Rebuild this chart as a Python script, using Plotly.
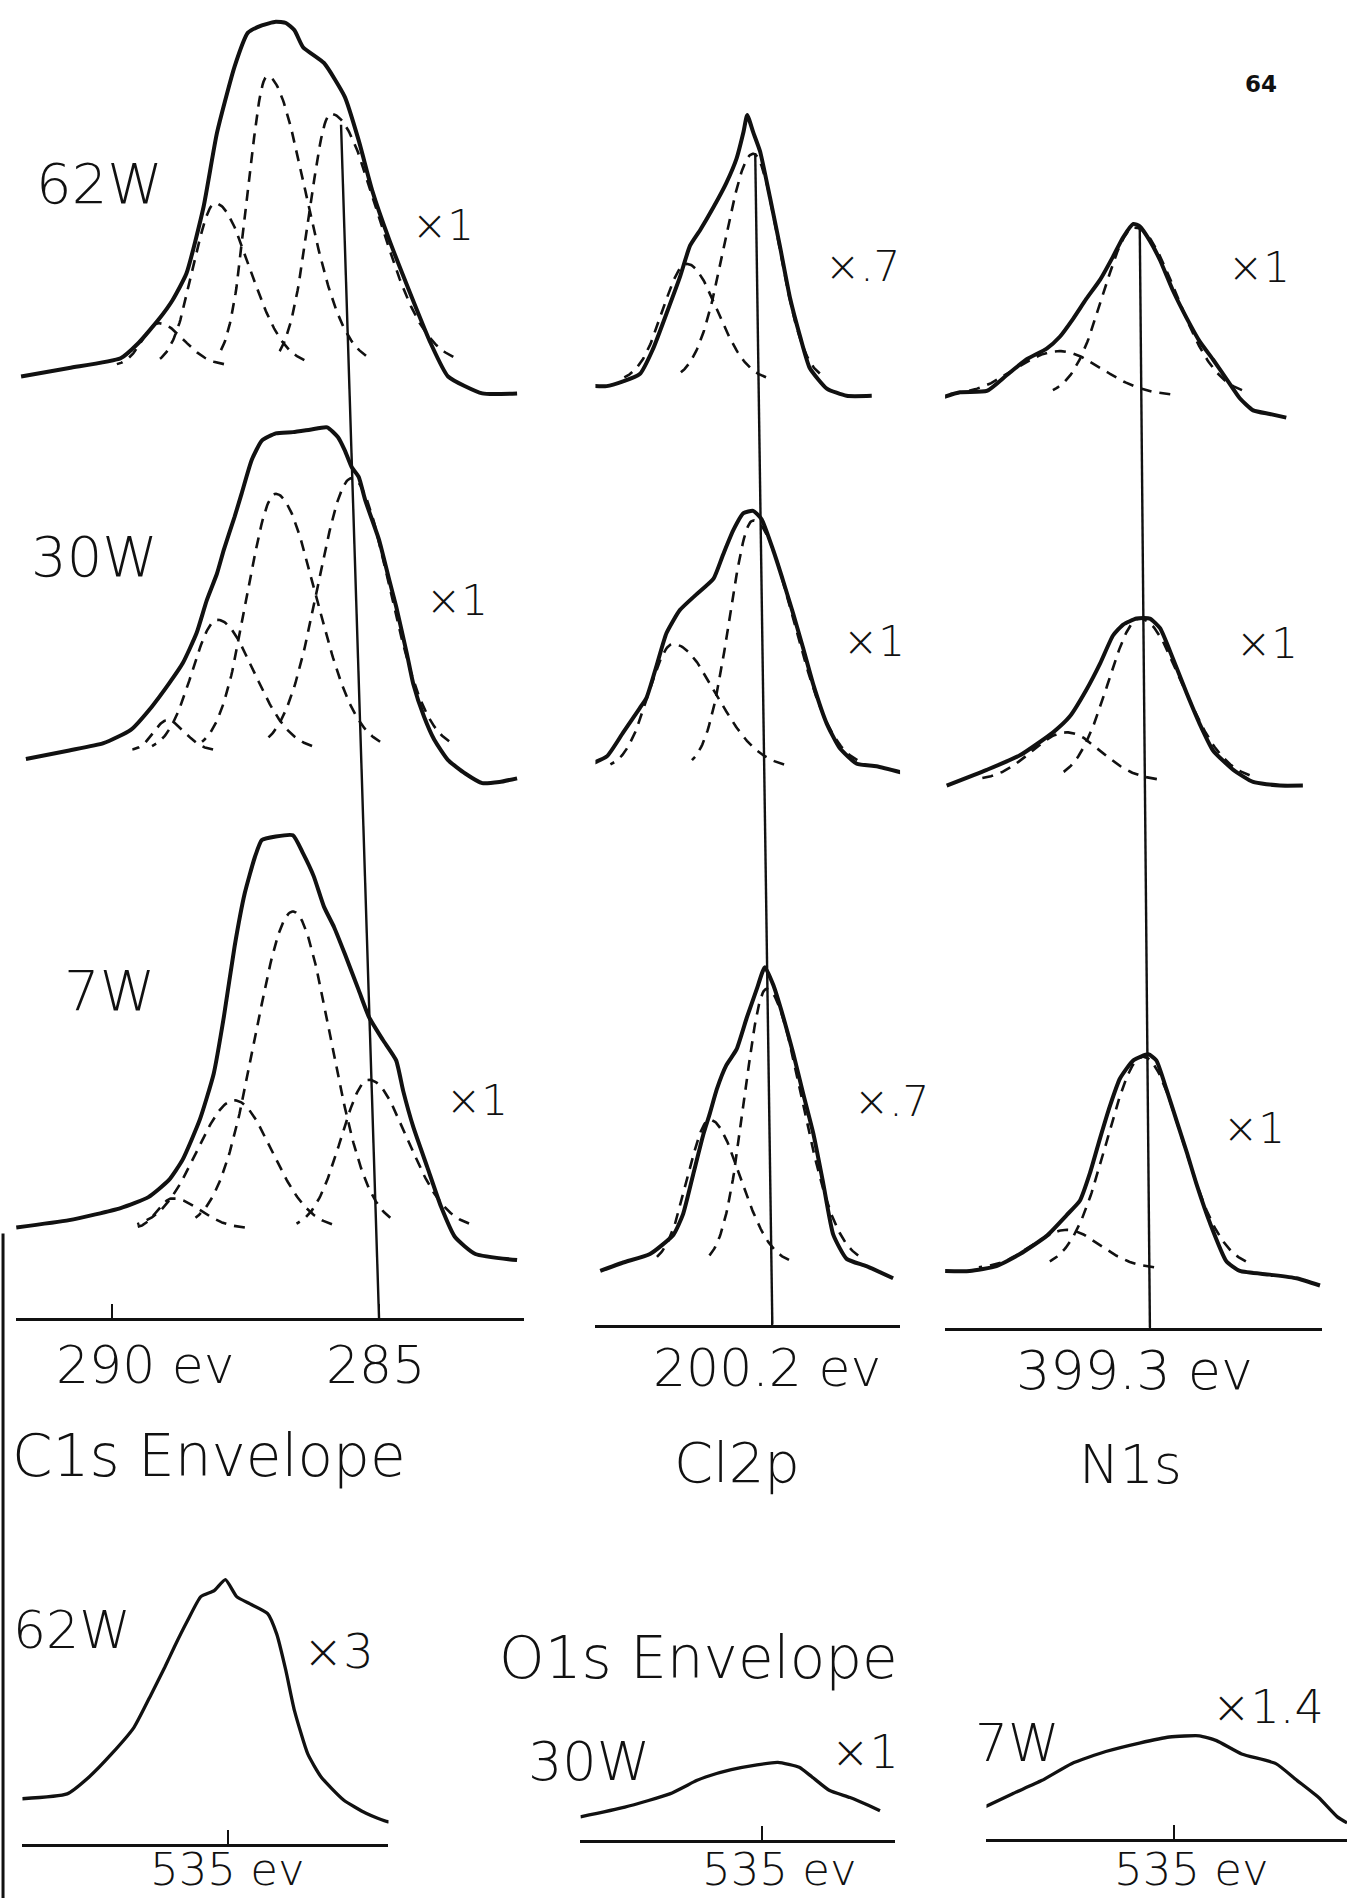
import numpy as np
import plotly.graph_objects as go

# ---------------- data: binding energy (eV) and intensity (arb. units) ----------------
# C1s envelopes
C1S_62W_E = [291.69, 290.79, 289.83, 289.51, 289.12, 288.86, 288.60, 288.28, 288.03, 287.70, 287.45, 287.19,
             286.93, 286.74, 286.58, 286.42, 286.03, 285.64, 285.38, 285.13, 284.81, 284.42, 284.03, 283.71,
             283.07, 282.42]
C1S_62W_I = [19, 26, 34, 46, 66, 82, 104, 159, 220, 275, 303, 309, 312, 311, 305, 291, 278, 250, 214, 173,
             132, 88, 46, 19, 5, 5]
C1S_30W_E = [291.60, 290.79, 290.15, 289.64, 289.25, 288.93, 288.67, 288.41, 288.22, 288.03, 287.90, 287.70,
             287.57, 287.38, 287.19, 286.93, 286.61, 286.29, 285.97, 285.77, 285.64, 285.51, 285.38, 285.26,
             285.00, 284.81, 284.68, 284.48, 284.36, 284.16, 283.97, 283.71, 283.39, 283.07, 282.75, 282.42]
C1S_30W_I = [23, 30, 36, 47, 66, 85, 102, 127, 154, 176, 196, 223, 242, 270, 286, 292, 293, 295, 297, 289,
             278, 264, 256, 237, 204, 171, 149, 110, 85, 58, 39, 22, 11, 3, 4, 7]
C1S_7W_E = [291.78, 290.79, 289.83, 289.31, 288.93, 288.67, 288.35, 288.09, 287.90, 287.70, 287.51, 287.32,
            287.19, 286.93, 286.61, 286.42, 286.22, 286.03, 285.84, 285.64, 285.38, 285.19, 284.93, 284.68,
            284.55, 284.36, 284.10, 283.84, 283.58, 283.20, 282.42]
C1S_7W_I = [31, 37, 47, 56, 70, 87, 120, 158, 205, 263, 307, 337, 351, 354, 355, 340, 321, 296, 279, 257,
            227, 205, 186, 169, 144, 114, 81, 48, 23, 9, 4]

# Cl2p envelopes
CL2P_62W_E = [203.83, 203.30, 202.68, 202.43, 202.18, 201.93, 201.74, 201.55, 201.30, 201.06, 200.87, 200.74,
              200.67, 200.56, 200.43, 200.24, 200.06, 199.87, 199.68, 199.50, 199.18, 198.81, 198.34]
CL2P_62W_I = [12, 11, 21, 42, 71, 101, 127, 140, 159, 179, 199, 221, 235, 221, 205, 166, 127, 84, 52, 26, 9,
              3, 3]
CL2P_30W_E = [204.11, 203.80, 203.30, 202.99, 202.68, 202.55, 202.36, 202.18, 201.93, 201.62, 201.30, 201.12,
              200.93, 200.74, 200.56, 200.40, 200.18, 199.99, 199.81, 199.62, 199.43, 199.18, 198.94, 198.62,
              198.25, 197.63]
CL2P_30W_I = [2, 10, 20, 40, 60, 69, 96, 122, 141, 154, 167, 187, 207, 221, 223, 216, 190, 164, 138, 109, 79,
              47, 27, 14, 12, 5]
CL2P_7W_E = [203.42, 202.99, 202.49, 202.05, 201.87, 201.68, 201.49, 201.37, 201.24, 201.06, 200.87, 200.68,
             200.49, 200.34, 200.18, 199.99, 199.81, 199.62, 199.43, 199.25, 199.06, 198.81, 198.44, 197.94]
CL2P_7W_I = [10, 17, 24, 40, 57, 90, 123, 140, 160, 180, 193, 219, 243, 261, 246, 219, 190, 156, 123, 83, 40,
             20, 14, 4]

# N1s envelopes
N1S_62W_E = [403.23, 402.85, 402.35, 401.98, 401.61, 401.23, 400.98, 400.73, 400.49, 400.23, 399.99, 399.80,
             399.61, 399.49, 399.30, 399.11, 398.87, 398.61, 398.37, 398.12, 397.87, 397.62, 397.37, 397.06,
             396.75]
N1S_62W_I = [19, 24, 25, 38, 51, 60, 70, 85, 101, 117, 136, 152, 163, 161, 149, 133, 108, 85, 66, 51, 35, 19,
             9, 6, 3]
N1S_30W_E = [403.10, 402.35, 401.73, 401.11, 400.80, 400.49, 400.23, 399.99, 399.80, 399.55, 399.30, 399.11,
             398.87, 398.61, 398.37, 398.12, 397.74, 397.37, 396.87, 396.44]
N1S_30W_I = [3, 16, 28, 47, 60, 82, 104, 127, 136, 141, 141, 133, 108, 79, 54, 32, 16, 6, 3, 3]
N1S_7W_E = [403.13, 402.67, 402.17, 401.73, 401.23, 400.86, 400.61, 400.42, 400.23, 400.05, 399.86, 399.61,
            399.33, 399.18, 398.99, 398.80, 398.61, 398.43, 398.18, 397.87, 397.62, 397.06, 396.56, 396.12]
N1S_7W_I = [15, 15, 19, 29, 44, 61, 73, 96, 125, 151, 174, 189, 194, 189, 165, 139, 113, 87, 55, 23, 15, 12,
            9, 3]

# O1s envelopes
O1S_62W_E = [538.84, 538.00, 537.59, 537.17, 536.75, 536.42, 536.17, 536.00, 535.75, 535.50, 535.25, 535.04,
             534.83, 534.58, 534.25, 534.08, 533.91, 533.75, 533.50, 533.25, 532.83, 532.41, 532.00, 531.70]
O1S_62W_I = [24, 28, 42, 61, 83, 111, 133, 149, 171, 191, 196, 205, 191, 185, 177, 160, 130, 97, 61, 42, 23,
             12, 5, 8]
O1S_30W_E = [538.40, 537.57, 536.73, 536.23, 536.06, 535.58, 535.10, 534.71, 534.31, 534.07, 533.75, 533.36,
             533.04, 532.80]
O1S_30W_I = [4, 12, 23, 34, 37, 43, 47, 49, 45, 37, 26, 20, 14, 9]
O1S_7W_E = [538.54, 538.02, 537.47, 536.91, 536.27, 535.64, 535.08, 534.52, 534.20, 533.73, 533.09, 532.69,
            532.29, 531.94, 531.76]
O1S_7W_I = [12, 23, 34, 48, 58, 65, 70, 71, 67, 56, 48, 34, 20, 4, -1]

# fitted components: centre (eV), height, sigma on high-BE / low-BE side (eV), background level
C1S_62W_FIT_E = [289.12, 288.06, 287.09, 285.90]
C1S_62W_FIT_H = [35, 134, 239, 208]
C1S_62W_FIT_SHI = [0.30, 0.41, 0.355, 0.40]
C1S_62W_FIT_SLO = [0.47, 0.64, 0.71, 0.88]
C1S_62W_FIT_BG = 28
C1S_30W_FIT_E = [288.96, 288.02, 286.93, 285.51]
C1S_30W_FIT_H = [25, 108, 212, 225]
C1S_30W_FIT_SHI = [0.25, 0.47, 0.53, 0.63]
C1S_30W_FIT_SLO = [0.33, 0.68, 0.75, 0.70]
C1S_30W_FIT_BG = 30
C1S_7W_FIT_E = [288.86, 287.70, 286.61, 285.19]
C1S_7W_FIT_H = [25, 106, 262, 123]
C1S_7W_FIT_SHI = [0.27, 0.70, 0.70, 0.52]
C1S_7W_FIT_SLO = [0.52, 0.70, 0.70, 0.72]
C1S_7W_FIT_BG = 30

CL2P_62W_FIT_E = [201.80, 200.56]
CL2P_62W_FIT_H = [97, 188]
CL2P_62W_FIT_SHI = [0.45, 0.53]
CL2P_62W_FIT_SLO = [0.57, 0.48]
CL2P_62W_FIT_BG = 15
CL2P_30W_FIT_E = [202.06, 200.56]
CL2P_30W_FIT_H = [103, 205]
CL2P_30W_FIT_SHI = [0.45, 0.44]
CL2P_30W_FIT_SLO = [0.80, 0.75]
CL2P_30W_FIT_BG = 10
CL2P_7W_FIT_E = [201.37, 200.31]
CL2P_7W_FIT_H = [120, 228]
CL2P_7W_FIT_SHI = [0.41, 0.41]
CL2P_7W_FIT_SLO = [0.57, 0.66]
CL2P_7W_FIT_BG = 15

N1S_62W_FIT_E = [401.00, 399.58]
N1S_62W_FIT_H = [37, 139]
N1S_62W_FIT_SHI = [0.80, 0.59]
N1S_62W_FIT_SLO = [0.80, 0.77]
N1S_62W_FIT_BG = 21
N1S_30W_FIT_E = [400.86, 399.49]
N1S_30W_FIT_H = [40, 134]
N1S_30W_FIT_SHI = [0.65, 0.59]
N1S_30W_FIT_SLO = [0.65, 0.79]
N1S_30W_FIT_BG = 7
N1S_7W_FIT_E = [400.86, 399.43]
N1S_7W_FIT_H = [32, 175]
N1S_7W_FIT_SHI = [0.63, 0.67]
N1S_7W_FIT_SLO = [0.63, 0.74]
N1S_7W_FIT_BG = 17

# peak-shift guide lines (top energy -> energy at the axis)
C1S_SHIFT_E = [285.71, 285.00]
CL2P_SHIFT_E = [200.52, 200.20]
N1S_SHIFT_E = [399.49, 399.30]

# tick values
C1S_TICKS = [290, 285]
CL2P_TICKS = [200.2]
N1S_TICKS = [399.3]
O1S_TICKS = [535]

# ---------------- layout (positions on a 1113 x 1568 grid) ----------------
INK = "#111111"
FONT = "DejaVu Sans"
GX, GY = 1113.0, 1568.0
ENV_W = 4.0
FIT_W = 2.6
FIT_DASH = "11px,8px"


def px(x):
    return x / GX


def py(y):
    return 1 - y / GY


fig = go.Figure()


def env(xa, ya, E, I, off, w=ENV_W):
    fig.add_trace(go.Scatter(x=E, y=[off + v for v in I], mode="lines", xaxis=xa, yaxis=ya,
                             line=dict(color=INK, width=w, shape="spline", smoothing=0.5),
                             showlegend=False, hoverinfo="skip"))


def comps(xa, ya, cen, hgt, shi, slo, bg, off):
    for c, a, sh, sl in zip(cen, hgt, shi, slo):
        e = np.linspace(c - 2.6 * sl, c + 2.6 * sh, 160)
        s = np.where(e >= c, sh, sl)
        y = off + bg + a * np.exp(-0.5 * ((e - c) / s) ** 2)
        fig.add_trace(go.Scatter(x=e, y=y, mode="lines", xaxis=xa, yaxis=ya,
                                 line=dict(color=INK, width=FIT_W, dash=FIT_DASH),
                                 showlegend=False, hoverinfo="skip"))


def guide(xa, ya, E, top):
    fig.add_trace(go.Scatter(x=E, y=[top, 0], mode="lines", xaxis=xa, yaxis=ya,
                             line=dict(color=INK, width=2.4), showlegend=False, hoverinfo="skip"))


# C1s column (x / y)
C1S_OFF = [759, 439, 44]
env("x", "y", C1S_62W_E, C1S_62W_I, C1S_OFF[0])
env("x", "y", C1S_30W_E, C1S_30W_I, C1S_OFF[1])
env("x", "y", C1S_7W_E, C1S_7W_I, C1S_OFF[2])
comps("x", "y", C1S_62W_FIT_E, C1S_62W_FIT_H, C1S_62W_FIT_SHI, C1S_62W_FIT_SLO, C1S_62W_FIT_BG, C1S_OFF[0])
comps("x", "y", C1S_30W_FIT_E, C1S_30W_FIT_H, C1S_30W_FIT_SHI, C1S_30W_FIT_SLO, C1S_30W_FIT_BG, C1S_OFF[1])
comps("x", "y", C1S_7W_FIT_E, C1S_7W_FIT_H, C1S_7W_FIT_SHI, C1S_7W_FIT_SLO, C1S_7W_FIT_BG, C1S_OFF[2])
guide("x", "y", C1S_SHIFT_E, 986)

# Cl2p column (x2 / y2)
CL2P_OFF = [764.4, 449.4, 34.4]
env("x2", "y2", CL2P_62W_E, CL2P_62W_I, CL2P_OFF[0])
env("x2", "y2", CL2P_30W_E, CL2P_30W_I, CL2P_OFF[1])
env("x2", "y2", CL2P_7W_E, CL2P_7W_I, CL2P_OFF[2])
comps("x2", "y2", CL2P_62W_FIT_E, CL2P_62W_FIT_H, CL2P_62W_FIT_SHI, CL2P_62W_FIT_SLO, CL2P_62W_FIT_BG, CL2P_OFF[0])
comps("x2", "y2", CL2P_30W_FIT_E, CL2P_30W_FIT_H, CL2P_30W_FIT_SHI, CL2P_30W_FIT_SLO, CL2P_30W_FIT_BG, CL2P_OFF[1])
comps("x2", "y2", CL2P_7W_FIT_E, CL2P_7W_FIT_H, CL2P_7W_FIT_SHI, CL2P_7W_FIT_SLO, CL2P_7W_FIT_BG, CL2P_OFF[2])
guide("x2", "y2", CL2P_SHIFT_E, 968)

# N1s column (x3 / y3)
N1S_OFF = [748.8, 444.8, 31.8]
env("x3", "y3", N1S_62W_E, N1S_62W_I, N1S_OFF[0])
env("x3", "y3", N1S_30W_E, N1S_30W_I, N1S_OFF[1])
env("x3", "y3", N1S_7W_E, N1S_7W_I, N1S_OFF[2])
comps("x3", "y3", N1S_62W_FIT_E, N1S_62W_FIT_H, N1S_62W_FIT_SHI, N1S_62W_FIT_SLO, N1S_62W_FIT_BG, N1S_OFF[0])
comps("x3", "y3", N1S_30W_FIT_E, N1S_30W_FIT_H, N1S_30W_FIT_SHI, N1S_30W_FIT_SLO, N1S_30W_FIT_BG, N1S_OFF[1])
comps("x3", "y3", N1S_7W_FIT_E, N1S_7W_FIT_H, N1S_7W_FIT_SHI, N1S_7W_FIT_SLO, N1S_7W_FIT_BG, N1S_OFF[2])
guide("x3", "y3", N1S_SHIFT_E, 910)

# O1s panels (x4..x6)
env("x4", "y4", O1S_62W_E, O1S_62W_I, 13.1, w=3.3)
env("x5", "y5", O1S_30W_E, O1S_30W_I, 15, w=3.3)
env("x6", "y6", O1S_7W_E, O1S_7W_I, 14, w=3.3)


def xax(domain, rng, ticks):
    return dict(domain=domain, range=rng, showline=True, linecolor=INK, linewidth=2.8, ticks="inside",
                tickvals=ticks, ticklen=14, tickwidth=2.4, tickcolor=INK, showticklabels=False,
                showgrid=False, zeroline=False, fixedrange=True)


def yax(domain, rng, anchor):
    return dict(domain=domain, range=rng, visible=False, showgrid=False, zeroline=False,
                fixedrange=True, anchor=anchor)


layout = dict(
    width=1347, height=1898, margin=dict(l=0, r=0, t=0, b=0),
    paper_bgcolor="white", plot_bgcolor="rgba(0,0,0,0)", showlegend=False,
    font=dict(family=FONT, color=INK),
    xaxis=dict(xax([px(13), px(433)], [291.79, 282.29], C1S_TICKS), anchor="y"),
    yaxis=yax([py(1089), 1.0], [0, 1089], "x"),
    xaxis2=dict(xax([px(492), px(743.7)], [203.51, 197.81], CL2P_TICKS), anchor="y2"),
    yaxis2=yax([py(1094.4), 1.0], [0, 1094.4], "x2"),
    xaxis3=dict(xax([px(780.9), px(1092)], [403.13, 396.09], N1S_TICKS), anchor="y3"),
    yaxis3=yax([py(1096.8), 1.0], [0, 1096.8], "x3"),
    xaxis4=dict(xax([px(18.4), px(321)], [538.84, 531.99], O1S_TICKS), anchor="y4"),
    yaxis4=yax([py(1523.1), py(1280)], [0, 243.1], "x4"),
    xaxis5=dict(xax([px(479.6), px(739.5)], [538.40, 532.52], O1S_TICKS), anchor="y5"),
    yaxis5=yax([py(1520), py(1280)], [0, 240], "x5"),
    xaxis6=dict(xax([px(815.1), 1.0], [538.50, 531.76], O1S_TICKS), anchor="y6"),
    yaxis6=yax([py(1519), py(1280)], [0, 239], "x6"),
)
fig.update_layout(**layout)

# ---------------- text ----------------
LABELS = [
    ("64", 1027, 69, 23, True),
    ("62W", 28, 152, 56, False),
    ("30W", 24, 460, 56, False),
    ("7W", 51, 818, 56, False),
    ("×1", 339, 186, 42, False),
    ("×1", 350, 496, 42, False),
    ("×1", 367, 909, 42, False),
    ("×.7", 680, 220, 42, False),
    ("×1", 695, 530, 42, False),
    ("×.7", 704, 910, 42, False),
    ("×1", 1013, 221, 42, False),
    ("×1", 1020, 532, 42, False),
    ("×1", 1009, 932, 42, False),
    ("290 ev", 45, 1128, 52, False),
    ("285", 268, 1128, 52, False),
    ("200.2 ev", 538, 1130, 52, False),
    ("399.3 ev", 838, 1132, 54, False),
    ("C1s Envelope", 8, 1203, 58, False),
    ("Cl2p", 555, 1208, 56, False),
    ("N1s", 890, 1210, 54, False),
    ("62W", 9, 1347, 52, False),
    ("×3", 249, 1364, 48, False),
    ("O1s Envelope", 411, 1370, 58, False),
    ("30W", 435, 1455, 54, False),
    ("×1", 685, 1447, 46, False),
    ("7W", 804, 1440, 52, False),
    ("×1.4", 1000, 1410, 46, False),
]
for text, x, y, size, bold in LABELS:
    fig.add_annotation(text=text, x=px(x), y=py(y), xref="paper", yref="paper", xanchor="left",
                       yanchor="middle", showarrow=False,
                       font=dict(family=FONT, size=size, color=INK, weight=700 if bold else 200))

# O1s energy labels sit on the bottom edge of the page
for x in (122, 578, 919):
    fig.add_annotation(text="535 ev", x=px(x), y=0, xref="paper", yref="paper", xanchor="left",
                       yanchor="bottom", showarrow=False,
                       font=dict(family=FONT, size=45, color=INK, weight=200))

# scanned page edge on the left
fig.add_shape(type="line", xref="paper", yref="paper", x0=px(2.5), x1=px(2.5), y0=py(1019), y1=0,
              line=dict(color=INK, width=3))

fig.write_html("out.html")
